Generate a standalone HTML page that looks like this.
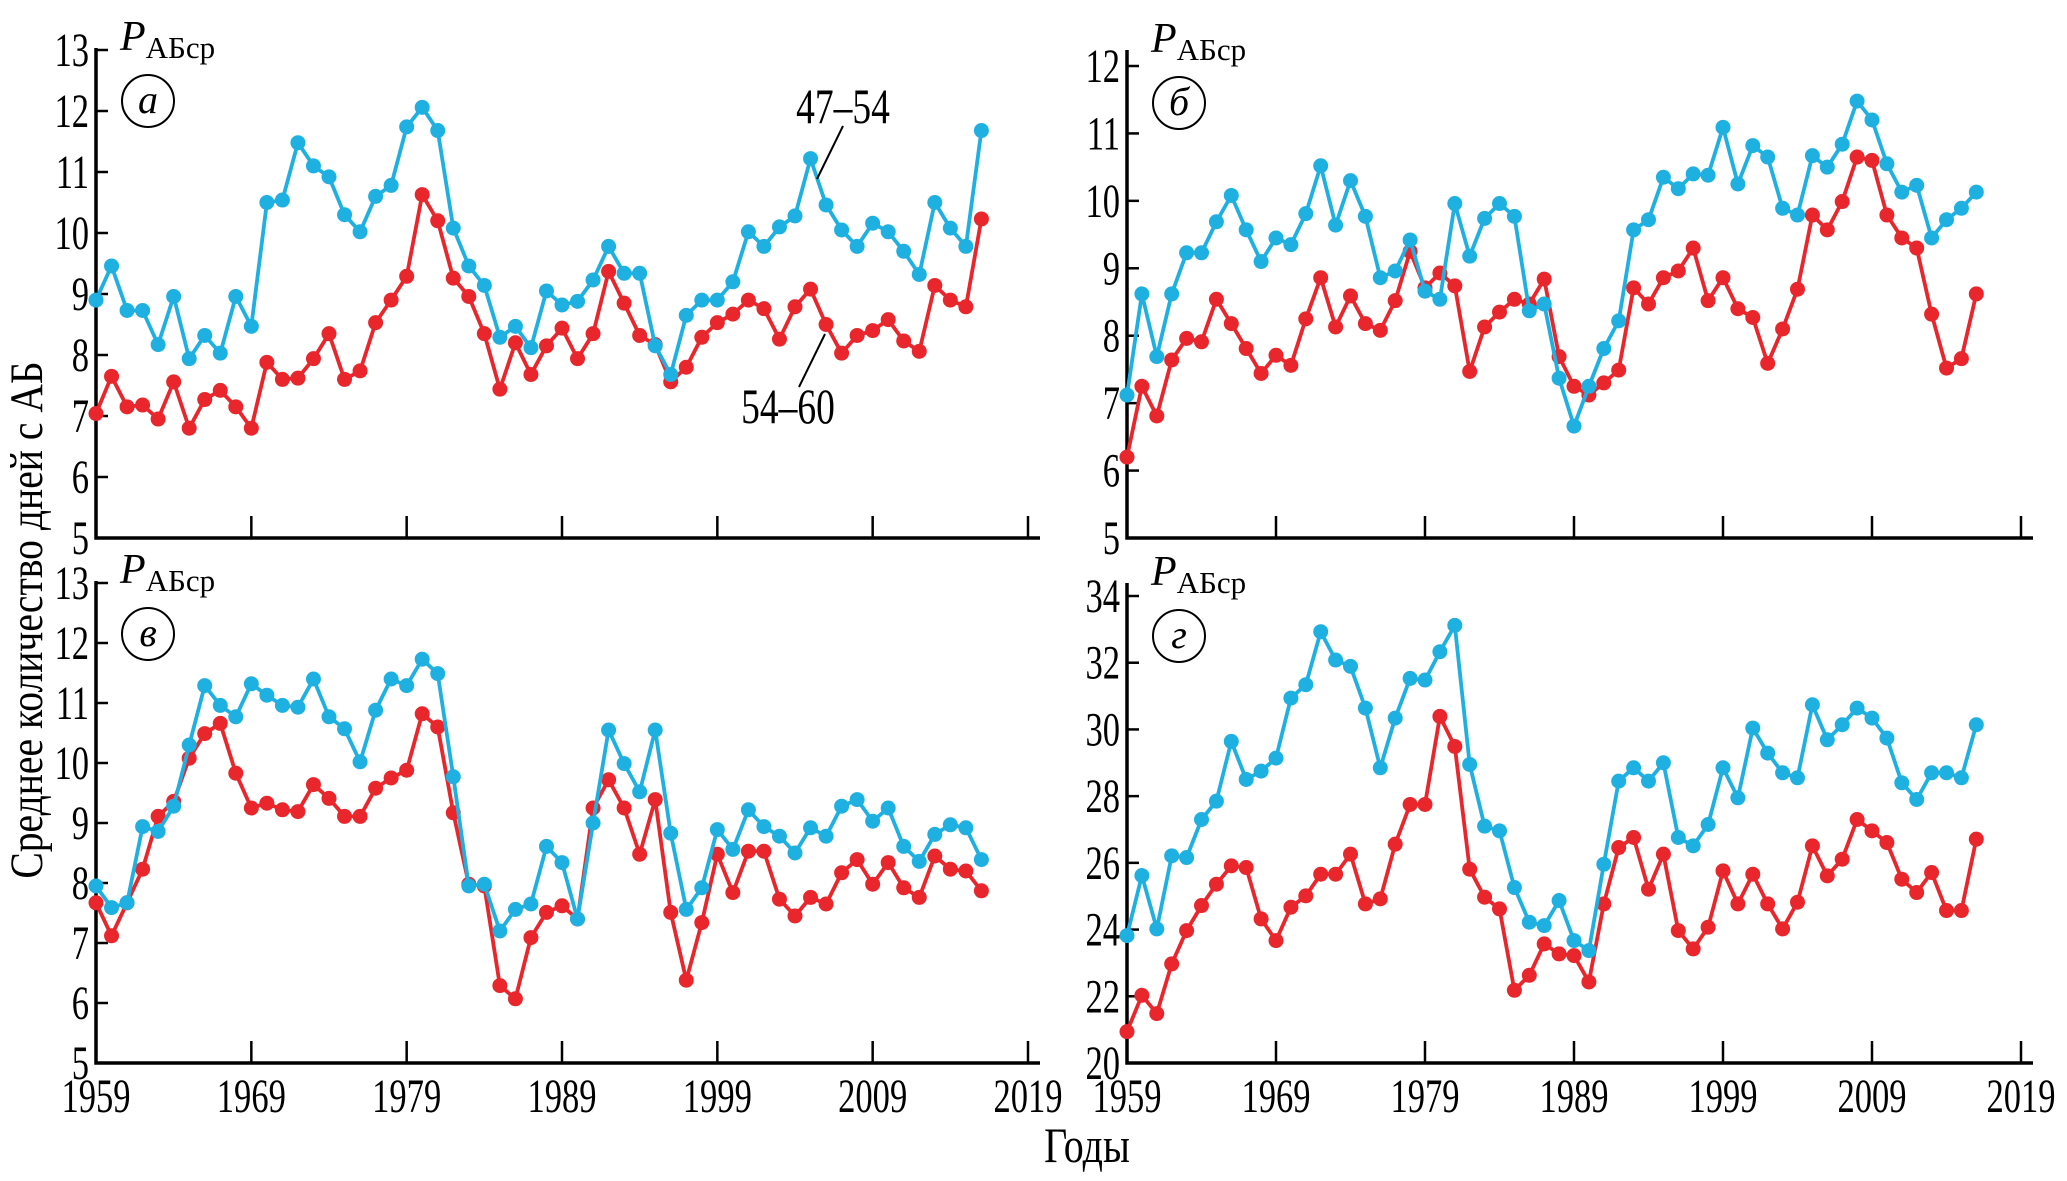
<!DOCTYPE html>
<html><head><meta charset="utf-8"><style>
html,body{margin:0;padding:0;background:#fff;}
svg{display:block;font-family:"Liberation Serif","DejaVu Serif",serif;}
</style></head><body>
<svg id="chart" width="2067" height="1181" viewBox="0 0 2067 1181" xmlns="http://www.w3.org/2000/svg">
<text x="0" y="0" transform="translate(42,620) rotate(-90) scale(0.9,1.05)" text-anchor="middle" font-size="44">Среднее количество дней с АБ</text>
<text x="0" y="0" transform="translate(1087,1162) scale(0.8,1)" text-anchor="middle" font-size="50">Годы</text>
</svg>
<script>
const years = Array.from({length:58},(_, i)=>1959+i);
const xTickLabels = ["1959","1969","1979","1989","1999","2009","2019"];
const ticksA = [5,6,7,8,9,10,11,12,13];
const ticksB = [5,6,7,8,9,10,11,12];
const ticksC = [5,6,7,8,9,10,11,12,13];
const ticksD = [20,22,24,26,28,30,32,34];
const blueA = [8.9,9.46,8.73,8.73,8.17,8.96,7.94,8.32,8.03,8.96,8.47,10.5,10.54,11.48,11.1,10.92,10.3,10.02,10.6,10.78,11.74,12.06,11.68,10.08,9.46,9.14,8.29,8.47,8.12,9.05,8.82,8.88,9.23,9.78,9.34,9.34,8.15,7.68,8.65,8.9,8.9,9.2,10.02,9.78,10.1,10.28,11.22,10.46,10.05,9.78,10.16,10.02,9.7,9.32,10.5,10.08,9.78,11.68];
const redA = [7.04,7.65,7.15,7.18,6.95,7.56,6.8,7.27,7.42,7.15,6.8,7.88,7.6,7.62,7.94,8.35,7.6,7.74,8.53,8.9,9.29,10.63,10.2,9.26,8.96,8.35,7.44,8.2,7.68,8.15,8.44,7.94,8.35,9.37,8.85,8.32,8.17,7.56,7.8,8.29,8.53,8.67,8.9,8.76,8.26,8.79,9.08,8.5,8.03,8.32,8.4,8.58,8.23,8.06,9.14,8.9,8.79,10.23];
const blueB = [7.12,8.62,7.69,8.62,9.23,9.23,9.69,10.08,9.57,9.1,9.45,9.35,9.81,10.52,9.64,10.3,9.77,8.86,8.96,9.42,8.66,8.54,9.96,9.18,9.74,9.96,9.77,8.37,8.47,7.37,6.66,7.25,7.81,8.22,9.57,9.72,10.35,10.18,10.4,10.38,11.09,10.25,10.82,10.65,9.89,9.79,10.67,10.5,10.84,11.48,11.2,10.55,10.13,10.23,9.45,9.72,9.89,10.13];
const redB = [6.2,7.25,6.81,7.64,7.96,7.91,8.54,8.18,7.81,7.44,7.71,7.56,8.25,8.86,8.13,8.59,8.18,8.08,8.52,9.25,8.71,8.93,8.74,7.47,8.13,8.35,8.54,8.47,8.84,7.69,7.25,7.12,7.3,7.49,8.71,8.47,8.86,8.96,9.3,8.52,8.86,8.4,8.27,7.59,8.1,8.69,9.79,9.57,9.99,10.65,10.6,9.79,9.45,9.3,8.32,7.52,7.66,8.62];
const blueC = [7.95,7.59,7.67,8.94,8.86,9.28,10.3,11.29,10.96,10.77,11.32,11.13,10.96,10.93,11.4,10.77,10.57,10.02,10.88,11.4,11.29,11.73,11.49,9.77,7.95,7.98,7.2,7.56,7.65,8.61,8.34,7.4,9.0,10.55,9.99,9.52,10.55,8.83,7.56,7.92,8.89,8.56,9.22,8.94,8.78,8.5,8.92,8.78,9.28,9.39,9.03,9.25,8.61,8.36,8.81,8.97,8.92,8.39];
const redC = [7.67,7.12,7.67,8.23,9.11,9.36,10.08,10.49,10.66,9.83,9.25,9.33,9.22,9.19,9.64,9.41,9.11,9.11,9.58,9.75,9.88,10.82,10.6,9.17,7.98,7.95,6.29,6.07,7.09,7.51,7.62,7.4,9.25,9.72,9.25,8.48,9.39,7.51,6.38,7.34,8.48,7.84,8.53,8.53,7.73,7.45,7.76,7.65,8.17,8.39,7.98,8.34,7.92,7.76,8.45,8.23,8.2,7.87];
const blueD = [23.82,25.62,24.02,26.21,26.16,27.3,27.85,29.64,28.5,28.75,29.14,30.94,31.34,32.93,32.08,31.89,30.64,28.85,30.34,31.53,31.48,32.33,33.12,28.95,27.1,26.96,25.26,24.22,24.12,24.87,23.67,23.37,25.96,28.45,28.85,28.45,29.0,26.76,26.51,27.15,28.85,27.95,30.04,29.29,28.7,28.55,30.74,29.69,30.14,30.64,30.34,29.74,28.4,27.9,28.7,28.7,28.55,30.14];
const redD = [20.94,22.03,21.48,22.97,23.97,24.72,25.36,25.91,25.86,24.32,23.67,24.67,25.01,25.66,25.66,26.26,24.77,24.92,26.56,27.75,27.75,30.39,29.49,25.81,24.97,24.62,22.18,22.63,23.57,23.27,23.22,22.43,24.77,26.46,26.76,25.21,26.26,23.97,23.42,24.07,25.76,24.77,25.66,24.77,24.02,24.82,26.51,25.61,26.11,27.3,26.96,26.61,25.51,25.11,25.71,24.57,24.57,26.71];

const NS="http://www.w3.org/2000/svg";
const svg=document.getElementById('chart');
function mk(tag,attrs,parent){const e=document.createElementNS(NS,tag);for(const k in attrs)e.setAttribute(k,attrs[k]);(parent||svg).appendChild(e);return e;}

const panels=[
 {id:'a',letter:'а',x0:96,x1:1028,yTop:50,yBot:538,ticks:ticksA,blue:blueA,red:redA,axisTop:48},
 {id:'b',letter:'б',x0:1127,x1:2021,yTop:66,yBot:538,ticks:ticksB,blue:blueB,red:redB,axisTop:50},
 {id:'c',letter:'в',x0:96,x1:1028,yTop:583,yBot:1063,ticks:ticksC,blue:blueC,red:redC,axisTop:581},
 {id:'d',letter:'г',x0:1127,x1:2021,yTop:596,yBot:1063,ticks:ticksD,blue:blueD,red:redD,axisTop:583}
];

panels.forEach(p=>{
  const g=mk('g',{});
  
  
  const vmin=p.ticks[0], vmax=p.ticks[p.ticks.length-1];
  const sx=yr=>p.x0+(yr-1959)/60*(p.x1-p.x0);
  const sy=v=>p.yBot-(v-vmin)/(vmax-vmin)*(p.yBot-p.yTop);
  const ax=mk('path',{d:`M${p.x0},${p.axisTop} V${p.yBot} H${p.x1+12}`,fill:'none',stroke:'#000','stroke-width':3.5},g);
  
  
  p.ticks.forEach(t=>{
    const y=sy(t);
    mk('line',{x1:p.x0,x2:p.x0+12,y1:y,y2:y,stroke:'#000','stroke-width':2.5},g);
    const tx=mk('text',{x:0,y:0,transform:`translate(${p.x0-7},${y+16}) scale(0.72,1)`,'text-anchor':'end','font-size':48},g);
    
    
    tx.textContent=t;
  });
  xTickLabels.forEach(l=>{
    const x=sx(+l);
    if(+l>1959) mk('line',{x1:x,x2:x,y1:p.yBot,y2:p.yBot-22,stroke:'#000','stroke-width':2.5},g);
    if(p.id==='c'||p.id==='d'){
      const tx=mk('text',{x:0,y:0,transform:`translate(${x},1112) scale(0.72,1)`,'text-anchor':'middle','font-size':48},g);
      
      
      tx.textContent=l;
    }
  });
  const pl=mk('text',{x:p.x0+24,y:p.axisTop+2,'font-size':42},g);
  
  
  const t1=mk('tspan',{'font-style':'italic'},pl);t1.textContent='P';
  const t2=mk('tspan',{'font-size':31,dy:8},pl);t2.textContent='АБср';
  const cg=mk('g',{},g);
  
  
  mk('circle',{cx:p.x0+52,cy:p.axisTop+53,r:26,fill:'none',stroke:'#000','stroke-width':2},cg);
  const lt=mk('text',{x:p.x0+52,y:p.axisTop+65,'text-anchor':'middle','font-size':40,'font-style':'italic'},cg);
  lt.textContent=p.letter;
  [['red',p.red,'#e8262c'],['blue',p.blue,'#1fb0e2']].forEach(([nm,arr,col])=>{
    const d=arr.map((v,i)=>(i?'L':'M')+sx(years[i]).toFixed(1)+','+sy(v).toFixed(1)).join(' ');
    const ln=mk('path',{d:d,fill:'none',stroke:col,'stroke-width':3.8,'stroke-linejoin':'round'},g);
    
    
    arr.forEach((v,i)=>{
      const c=mk('circle',{cx:sx(years[i]),cy:sy(v),r:7.5,fill:col},g);
      
      
    });
  });
});
const an1=mk('text',{x:0,y:0,transform:'translate(843,123) scale(0.75,1)','text-anchor':'middle','font-size':50});


an1.textContent='47–54';
mk('line',{x1:843,y1:126,x2:817,y2:179,stroke:'#000','stroke-width':2});
const an2=mk('text',{x:0,y:0,transform:'translate(788,423) scale(0.75,1)','text-anchor':'middle','font-size':50});


an2.textContent='54–60';
mk('line',{x1:799,y1:387,x2:825,y2:334,stroke:'#000','stroke-width':2});
</script>
</body></html>
